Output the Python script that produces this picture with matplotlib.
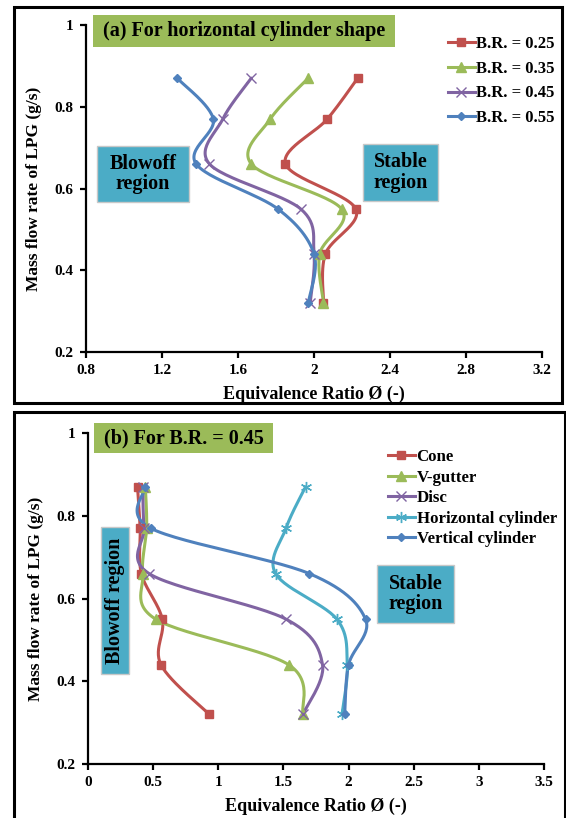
import numpy as np
import matplotlib
matplotlib.use('Agg')
import matplotlib.pyplot as plt
from matplotlib.lines import Line2D
from matplotlib.patches import Rectangle

plt.rcParams['font.family'] = ['Liberation Serif', 'DejaVu Serif']
plt.rcParams['font.weight'] = 'bold'

# mass flow rate of LPG (g/s), shared by every series
flow = [0.32, 0.44, 0.55, 0.66, 0.77, 0.87]

# (a) horizontal cylinder, blockage ratios
br_labels = ['B.R. = 0.25', 'B.R. = 0.35', 'B.R. = 0.45', 'B.R. = 0.55']
phi_br025 = [2.05, 2.06, 2.22, 1.85, 2.07, 2.23]
phi_br035 = [2.05, 2.03, 2.145, 1.67, 1.77, 1.97]
phi_br045 = [1.98, 2.00, 1.93, 1.45, 1.52, 1.67]
phi_br055 = [1.97, 2.00, 1.81, 1.38, 1.47, 1.28]

# (b) B.R. = 0.45, bluff body shapes
shape_labels = ['Cone', 'V-gutter', 'Disc', 'Horizontal cylinder', 'Vertical cylinder']
phi_cone = [0.93, 0.56, 0.57, 0.41, 0.40, 0.38]
phi_vgutter = [1.65, 1.54, 0.52, 0.42, 0.45, 0.44]
phi_disc = [1.65, 1.80, 1.52, 0.47, 0.43, 0.42]
phi_hcyl = [1.95, 1.99, 1.91, 1.44, 1.52, 1.67]
phi_vcyl = [1.97, 2.00, 2.13, 1.70, 0.48, 0.44]

RED, GREEN, PURPLE, CYAN, BLUE = '#C0504D', '#9BBB59', '#8064A2', '#4BACC6', '#4F81BD'
ASTER = (6, 2, 0)

W, H = 566, 818


def smooth(x, y, n=30):
    # excel-like smoothed line (catmull-rom as cubic bezier)
    pts = np.column_stack([x, y]).astype(float)
    P = np.vstack([pts[0], pts, pts[-1]])
    t = np.linspace(0, 1, n)[:, None]
    out = []
    for i in range(len(pts) - 1):
        p0, p1, p2, p3 = P[i], P[i + 1], P[i + 2], P[i + 3]
        c1 = p1 + (p2 - p0) / 6
        c2 = p2 - (p3 - p1) / 6
        seg = (1 - t)**3 * p1 + 3 * (1 - t)**2 * t * c1 + 3 * (1 - t) * t**2 * c2 + t**3 * p2
        out.append(seg if i == 0 else seg[1:])
    c = np.vstack(out)
    return c[:, 0], c[:, 1]


def fx(px):
    return px / W


def fy(py):
    return 1 - py / H


def box(fig, x0, y0, x1, y1, color, edge='none'):
    fig.add_artist(Rectangle((fx(x0), fy(y1)), fx(x1 - x0), (y1 - y0) / H,
                             transform=fig.transFigure, facecolor=color,
                             edgecolor=edge, lw=1, zorder=5))


def style_axes(ax, xticks, xlabels):
    for s in ['top', 'right']:
        ax.spines[s].set_visible(False)
    for s in ['left', 'bottom']:
        ax.spines[s].set_linewidth(1.6)
    ax.set_ylim(0.2, 1.0)
    ax.set_yticks([0.2, 0.4, 0.6, 0.8, 1.0])
    ax.set_yticklabels(['0.2', '0.4', '0.6', '0.8', '1'])
    ax.set_xticks(xticks)
    ax.set_xticklabels(xlabels)
    ax.set_xlim(xticks[0], xticks[-1])
    ax.tick_params(direction='out', length=4, width=1.6, labelsize=11, pad=5)
    for lab in ax.get_xticklabels() + ax.get_yticklabels():
        lab.set_fontweight('bold')
    ax.set_ylabel('Mass flow rate of LPG (g/s)', fontsize=12.5, fontweight='bold', labelpad=9)
    ax.set_xlabel('Equivalence Ratio Ø (-)', fontsize=13, fontweight='bold', labelpad=6)


fig = plt.figure(figsize=(W / 100, H / 100), dpi=100)

# panel frames
fig.add_artist(Rectangle((fx(14), fy(403)), fx(562 - 14), (403 - 7) / H,
                         transform=fig.transFigure, fill=False, lw=2.2, ec='black'))
fig.add_artist(Rectangle((fx(14), fy(830)), fx(565 - 14), (830 - 412) / H,
                         transform=fig.transFigure, fill=False, lw=2.2, ec='black'))

# ---- (a) ----
axa = fig.add_axes([fx(86), fy(352), fx(542 - 86), (352 - 25) / H])
series_a = [phi_br025, phi_br035, phi_br045, phi_br055]
styles_a = [(RED, 's', 6, 1), (GREEN, '^', 6.5, 1), (PURPLE, 'x', 7, 1.0), (BLUE, 'D', 4.5, 1)]
handles = []
for vals, (c, m, ms, mew), lab in zip(series_a, styles_a, br_labels):
    sx, sy = smooth(vals, flow)
    axa.plot(sx, sy, color=c, lw=2.2, solid_capstyle='round', zorder=3)
    axa.plot(vals, flow, ls='none', marker=m, ms=ms, color=c, mew=mew, zorder=4)
    handles.append(Line2D([], [], color=c, lw=2.2, marker=m, ms=ms, mew=mew))
style_axes(axa, [0.8, 1.2, 1.6, 2.0, 2.4, 2.8, 3.2], ['0.8', '1.2', '1.6', '2', '2.4', '2.8', '3.2'])
fig.legend(handles, br_labels, loc='upper left', bbox_to_anchor=(fx(448), fy(36)),
           frameon=False, borderpad=0, borderaxespad=0, handlelength=1.6,
           handletextpad=0.1, labelspacing=0.52, prop={'size': 12, 'weight': 'bold'})

box(fig, 93, 15, 395, 47, GREEN)
fig.text(fx(244), fy(31), '(a) For horizontal cylinder shape', ha='center', va='center',
         fontsize=14.5, fontweight='bold', zorder=6)
box(fig, 97, 146, 189, 202, CYAN, '#c8c8c8')
fig.text(fx(143), fy(174), 'Blowoff\nregion', ha='center', va='center', fontsize=14.5,
         fontweight='bold', linespacing=1.05, zorder=6)
box(fig, 363, 144, 438, 201, CYAN, '#c8c8c8')
fig.text(fx(400.5), fy(172.5), 'Stable\nregion', ha='center', va='center', fontsize=14.5,
         fontweight='bold', linespacing=1.05, zorder=6)

# ---- (b) ----
axb = fig.add_axes([fx(88), fy(764), fx(544 - 88), (764 - 433) / H])
series_b = [phi_cone, phi_vgutter, phi_disc, phi_hcyl, phi_vcyl]
styles_b = [(RED, 's', 6, 1), (GREEN, '^', 6.5, 1), (PURPLE, 'x', 7, 1.0),
            (CYAN, ASTER, 8, 1.0), (BLUE, 'D', 4.5, 1)]
handles = []
for vals, (c, m, ms, mew), lab in zip(series_b, styles_b, shape_labels):
    sx, sy = smooth(vals, flow)
    axb.plot(sx, sy, color=c, lw=2.2, solid_capstyle='round', zorder=3)
    axb.plot(vals, flow, ls='none', marker=m, ms=ms, color=c, mew=mew, zorder=4)
    handles.append(Line2D([], [], color=c, lw=2.2, marker=m, ms=ms, mew=mew))
style_axes(axb, [0, 0.5, 1, 1.5, 2, 2.5, 3, 3.5], ['0', '0.5', '1', '1.5', '2', '2.5', '3', '3.5'])
fig.legend(handles, shape_labels, loc='upper left', bbox_to_anchor=(fx(388), fy(449)),
           frameon=False, borderpad=0, borderaxespad=0, handlelength=1.6,
           handletextpad=0.1, labelspacing=0.27, prop={'size': 12.1, 'weight': 'bold'})

box(fig, 94, 423, 273, 453, GREEN)
fig.text(fx(183.5), fy(438), '(b) For B.R. = 0.45', ha='center', va='center',
         fontsize=14.5, fontweight='bold', zorder=6)
box(fig, 101, 527, 129, 674, CYAN, '#c8c8c8')
fig.text(fx(115), fy(600.5), 'Blowoff region', ha='center', va='center', rotation=90,
         fontsize=14.5, fontweight='bold', zorder=6)
box(fig, 377, 565, 454, 623, CYAN, '#c8c8c8')
fig.text(fx(415.5), fy(594), 'Stable\nregion', ha='center', va='center', fontsize=14.5,
         fontweight='bold', linespacing=1.05, zorder=6)

fig.savefig('out.png', dpi=100)
